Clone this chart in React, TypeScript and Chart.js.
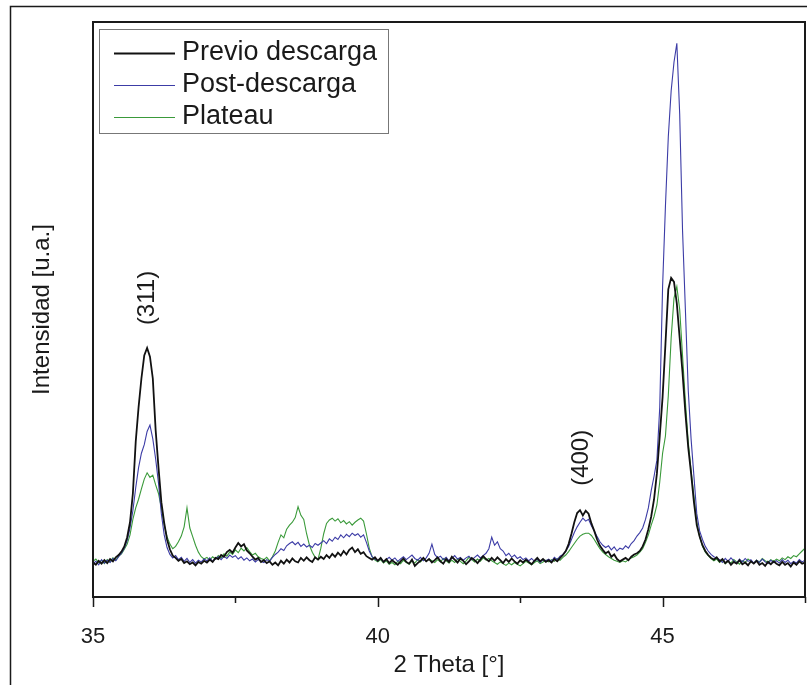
import React, { useEffect, useRef } from "react";
import { Chart, registerables } from "chart.js";

Chart.register(...registerables);

// 2θ sampling grid: start and step (degrees)
const THETA_START = 35;
const THETA_STEP = 0.05;

// Intensity (a.u., 0–100 scale), one row per degree (35.00 … 47.50)
const previoDescarga = [
  6.0, 5.6, 6.3, 5.8, 6.4, 5.9, 6.6, 6.2, 6.9, 7.3, 7.9, 8.8, 10.4, 13.0, 18.0, 27.0, 33.0, 38.0, 42.0, 43.3,
  41.8, 38.0, 29.0, 22.5, 16.5, 12.9, 10.0, 8.3, 7.2, 6.8, 6.3, 6.6, 5.9, 6.2, 5.7, 6.0, 5.5, 6.1, 5.8, 6.3,
  6.0, 6.5, 6.1, 6.8, 6.6, 7.3, 7.0, 7.8, 8.2, 7.7, 8.6, 9.4, 8.8, 9.2, 8.1, 7.6, 7.0, 6.5, 6.8, 6.1,
  6.4, 5.9, 6.2, 5.6, 6.0, 5.5, 6.3, 5.8, 6.5, 6.0, 6.7, 6.2, 6.0, 6.8, 6.3, 6.9, 6.4, 6.1, 6.9, 6.5,
  7.0, 6.6, 7.3, 6.8, 7.5, 7.0, 7.7, 7.2, 8.0, 7.4, 8.2, 8.6, 7.8, 8.3, 7.5, 7.8, 7.1, 6.8, 6.5, 6.9,
  6.3, 6.8, 6.1, 6.6, 5.9, 6.4, 6.0, 5.6, 6.2, 6.7, 6.1, 5.8, 6.5, 5.4, 5.9, 6.3, 6.8, 6.2, 6.6, 6.0,
  6.4, 6.9, 6.2, 5.8, 6.6, 6.1, 7.0, 6.5, 6.0, 6.7, 6.3, 5.7, 6.2, 6.8, 6.4, 5.9, 6.5, 7.1, 6.6, 6.2,
  6.8, 6.3, 6.9, 6.4, 5.9, 6.6, 6.1, 6.7, 6.2, 5.8, 6.4, 6.0, 6.5, 6.1, 5.7, 6.3, 6.8, 6.2, 6.6, 6.1,
  6.4, 6.0, 6.6, 6.2, 6.8, 7.3, 8.0, 9.2, 11.0, 13.0, 14.6, 15.1, 14.2, 15.0, 14.5, 12.8, 11.5, 10.0, 8.9, 8.2,
  7.6, 7.9, 7.0, 7.4, 6.6, 6.2, 6.5, 6.8, 6.4, 7.0, 7.4, 7.6, 8.0, 8.8, 10.0, 11.8, 14.0, 17.0, 21.5, 28.0,
  34.8, 44.0, 53.5, 55.5, 54.8, 51.0, 45.0, 39.0, 32.0, 26.0, 21.5, 16.5, 12.5, 10.5, 9.0, 8.0, 7.3, 6.8, 6.5, 6.9,
  6.2, 6.6, 5.9, 6.3, 5.6, 6.1, 5.8, 6.4, 5.7, 6.0, 5.5, 6.2, 5.8, 6.3, 5.6, 5.9, 5.4, 6.1, 5.7, 6.2,
  5.8, 5.5, 6.1, 5.6, 5.9, 5.3, 6.0, 5.6, 6.2, 5.8, 6.0,
];

const postDescarga = [
  5.8, 6.2, 5.6, 6.5, 5.9, 6.4, 6.0, 6.7, 6.3, 7.0, 7.6, 8.5, 9.8, 12.0, 15.0, 19.0, 22.5, 25.0, 26.5, 28.8,
  29.9, 27.5, 24.0, 19.8, 14.5, 10.8, 8.6, 7.4, 6.8, 7.2, 6.5, 6.9, 6.2, 6.7, 6.0, 6.5, 5.9, 6.4, 6.1, 6.6,
  6.3, 6.8, 6.2, 6.6, 7.0, 6.5, 7.1, 6.7, 7.3, 6.9, 7.2, 6.6, 7.0, 6.4, 6.8, 6.3, 6.6, 6.1, 6.5, 6.2,
  6.0, 6.5, 6.2, 6.9, 7.4, 7.8, 8.4, 8.1, 8.9, 9.3, 9.6, 9.1, 9.5, 8.8, 9.2, 8.7, 9.0, 8.6, 9.3, 9.0,
  9.4, 9.8, 9.3, 10.1, 9.7, 10.4, 10.0, 10.8, 10.3, 10.9, 10.5, 11.1, 10.7, 11.0, 10.4, 10.8, 9.5, 8.0, 7.0, 6.6,
  6.3, 6.7, 6.1, 6.5, 6.9, 6.4, 6.8, 6.2, 6.6, 7.0, 6.5, 6.9, 7.3, 6.7, 6.4, 6.9, 6.3, 6.8, 7.6, 9.2,
  7.4, 6.8, 7.1, 6.5, 6.9, 6.3, 6.7, 7.2, 6.6, 6.9, 6.4, 6.8, 7.1, 6.5, 6.9, 7.3, 6.8, 7.2, 7.6, 8.4,
  10.4, 9.0, 9.6, 8.4, 8.0, 7.2, 7.6, 6.9, 7.3, 6.7, 7.0, 6.5, 6.8, 6.3, 6.7, 6.2, 6.6, 6.0, 6.5, 6.3,
  6.6, 6.2, 6.9, 6.5, 7.1, 7.4, 8.0, 8.8, 10.0, 11.2, 12.2, 13.0, 13.7, 13.2, 13.5, 12.4, 11.5, 10.5, 9.6, 9.0,
  8.6, 8.9, 8.2, 8.7, 8.0, 8.5, 8.3, 8.9, 8.5, 9.3, 9.8, 10.6, 11.2, 12.0, 13.5, 15.5, 18.5, 21.0, 23.8, 33.0,
  54.0, 68.0, 80.0, 88.0, 93.0, 96.3, 84.0, 63.8, 50.0, 36.0, 27.5, 21.0, 14.5, 11.5, 10.0, 8.8, 8.0, 7.4, 7.0, 6.8,
  6.5, 6.0, 6.7, 6.2, 6.8, 6.3, 5.9, 6.6, 6.1, 6.7, 6.2, 6.5, 5.9, 6.4, 6.0, 6.6, 6.1, 5.8, 6.4, 6.0,
  6.3, 5.9, 6.5, 6.0, 6.4, 5.8, 6.2, 5.9, 6.5, 6.1, 6.4,
];

const plateau = [
  6.2, 6.6, 6.0, 6.4, 5.8, 6.5, 6.1, 6.8, 6.4, 7.1, 7.5, 8.3, 9.2, 10.8, 13.5, 15.5, 17.0, 18.8, 20.5, 21.6,
  20.8, 21.2, 19.5, 18.0, 15.5, 12.5, 10.5, 9.2, 8.4, 8.8, 9.6, 10.6, 12.2, 15.5, 12.0, 10.5, 9.0, 7.8, 7.0, 6.6,
  6.9, 6.4, 7.0, 6.6, 7.2, 6.8, 7.5, 7.1, 7.8, 7.4, 8.2, 7.7, 8.5, 8.0, 8.6, 7.9, 7.3, 7.6, 7.0, 6.7,
  6.5, 6.9, 6.3, 7.0, 8.0, 9.5, 10.8, 10.3, 11.8, 12.5, 13.0, 13.8, 15.7, 14.2, 13.5, 11.0, 9.0, 7.8, 6.9, 6.5,
  8.5, 11.0, 12.8, 13.4, 13.7, 13.2, 13.6, 12.9, 13.3, 12.7, 13.1, 12.5, 13.0, 13.4, 13.7, 13.2, 11.0, 8.5, 7.0, 6.4,
  6.1, 6.5, 5.9, 6.3, 5.7, 6.0, 5.6, 6.2, 5.8, 6.4, 6.0, 5.7, 6.3, 5.9, 6.5, 6.1, 6.7, 6.2, 6.6, 6.3,
  6.0, 6.5, 6.1, 6.7, 6.3, 5.9, 6.4, 6.0, 6.6, 6.2, 5.8, 6.3, 6.9, 6.5, 6.1, 6.6, 6.2, 6.8, 6.4, 6.7,
  6.3, 6.0, 5.7, 6.1, 5.8, 5.5, 5.9, 5.6, 6.0, 5.7, 5.4, 5.8, 6.2, 5.9, 5.6, 6.0, 6.3, 5.8, 6.1, 6.4,
  6.1, 6.5, 6.2, 6.7, 6.4, 6.9, 7.3, 7.9, 8.6, 9.3, 10.0, 10.6, 10.9, 11.1, 11.1, 10.7, 10.0, 9.2, 8.4, 7.8,
  7.4, 7.0, 6.7, 6.4, 6.2, 6.0, 6.3, 6.1, 6.5, 6.8, 7.0, 7.3, 7.8, 8.4, 9.5, 10.8, 12.5, 14.0, 16.0, 20.0,
  25.0, 28.0, 35.0, 45.0, 52.0, 54.0, 50.0, 42.0, 34.0, 27.0, 22.0, 17.5, 13.0, 10.5, 8.8, 7.8, 7.2, 6.7, 6.3, 6.6,
  6.0, 6.4, 5.8, 6.2, 5.9, 6.5, 6.1, 5.7, 6.3, 6.0, 6.6, 6.2, 5.9, 6.4, 6.1, 6.7, 6.3, 6.0, 6.5, 6.2,
  6.6, 6.3, 6.8, 6.5, 7.0, 6.7, 7.2, 7.0, 7.5, 8.0, 8.5,
];

const SERIES_LABELS = ["Previo descarga", "Post-descarga", "Plateau"];
const SERIES_COLORS = ["#111111", "#3c3ca6", "#3a9a3a"];
const SERIES_WIDTHS = [1.8, 1.1, 1.1];

const X_MIN = 35;
const X_MAX = 47.5;
const X_TICKS_MAJOR = [35, 40, 45];
const X_TICKS_MINOR = [37.5, 42.5, 47.5];

const PEAK_LABELS = ["(311)", "(400)"];
const PEAK_X = [35.95, 43.58];
const PEAK_Y = [52, 24.2];

const X_TITLE = "2 Theta [°]";
const Y_TITLE = "Intensidad [u.a.]";

const FONT = "'Liberation Sans', Arial, sans-serif";

const toPoints = (vals: number[]) =>
  vals.map((v, i) => ({ x: +(THETA_START + i * THETA_STEP).toFixed(2), y: v }));

const decorPlugin = {
  id: "decor",
  beforeDraw(chart: any) {
    const { ctx, width, height } = chart;
    ctx.save();
    ctx.fillStyle = "#ffffff";
    ctx.fillRect(0, 0, width, height);
    ctx.restore();
  },
  afterDraw(chart: any) {
    const { ctx, chartArea: a, scales } = chart;
    const xs = scales.x;
    const ys = scales.y;
    ctx.save();
    // outer figure frame
    ctx.strokeStyle = "#1a1a1a";
    ctx.lineWidth = 1.5;
    ctx.strokeRect(10.5, 6.5, 1200, 1200);
    // plot frame
    ctx.lineWidth = 2;
    ctx.strokeStyle = "#1a1a1a";
    ctx.strokeRect(a.left, a.top, a.right - a.left, a.bottom - a.top);
    // ticks
    ctx.lineWidth = 1.5;
    ctx.beginPath();
    X_TICKS_MAJOR.forEach((v) => {
      const px = Math.round(xs.getPixelForValue(v)) + 0.5;
      ctx.moveTo(px, a.bottom);
      ctx.lineTo(px, a.bottom + 10);
    });
    X_TICKS_MINOR.forEach((v) => {
      const px = Math.round(xs.getPixelForValue(v)) + 0.5;
      ctx.moveTo(px, a.bottom);
      ctx.lineTo(px, a.bottom + 6);
    });
    ctx.stroke();

    ctx.fillStyle = "#1a1a1a";
    // x title
    ctx.font = `24px ${FONT}`;
    ctx.textAlign = "center";
    ctx.textBaseline = "middle";
    ctx.fillText(X_TITLE, (a.left + a.right) / 2, 665);
    // y title
    ctx.save();
    ctx.translate(42, (a.top + a.bottom) / 2);
    ctx.rotate(-Math.PI / 2);
    ctx.fillText(Y_TITLE, 0, 0);
    ctx.restore();

    // peak labels
    PEAK_LABELS.forEach((t, i) => {
      ctx.save();
      ctx.translate(xs.getPixelForValue(PEAK_X[i]), ys.getPixelForValue(PEAK_Y[i]));
      ctx.rotate(-Math.PI / 2);
      ctx.font = `24px ${FONT}`;
      ctx.fillText(t, 0, 0);
      ctx.restore();
    });

    // legend
    const lx = 99.5, ly = 29.5, lw = 289, lh = 104;
    ctx.fillStyle = "#ffffff";
    ctx.fillRect(lx, ly, lw, lh);
    ctx.strokeStyle = "#777777";
    ctx.lineWidth = 1;
    ctx.strokeRect(lx, ly, lw, lh);
    ctx.font = `27px ${FONT}`;
    ctx.textAlign = "left";
    SERIES_LABELS.forEach((lab, i) => {
      const cy = 53 + i * 32;
      ctx.strokeStyle = SERIES_COLORS[i];
      ctx.lineWidth = SERIES_WIDTHS[i];
      ctx.beginPath();
      ctx.moveTo(114, cy + 0.5);
      ctx.lineTo(175, cy + 0.5);
      ctx.stroke();
      ctx.fillStyle = "#1a1a1a";
      ctx.fillText(lab, 182, cy);
    });
    ctx.restore();
  },
};

export default function App() {
  const ref = useRef<HTMLCanvasElement | null>(null);
  useEffect(() => {
    document.body.style.margin = "0";
    if (!ref.current) return;
    const series = [previoDescarga, postDescarga, plateau];
    const chart = new Chart(ref.current, {
      type: "line",
      data: {
        datasets: series.map((vals, i) => ({
          label: SERIES_LABELS[i],
          data: toPoints(vals),
          borderColor: SERIES_COLORS[i],
          borderWidth: SERIES_WIDTHS[i],
          pointRadius: 0,
          tension: 0,
          fill: false,
        })),
      },
      options: {
        animation: false,
        responsive: false,
        layout: { padding: { top: 22, right: 2, left: 0, bottom: 0 } },
        plugins: { legend: { display: false }, tooltip: { enabled: false } },
        scales: {
          x: {
            type: "linear",
            min: X_MIN,
            max: X_MAX,
            grid: { display: false },
            border: { display: false },
            afterBuildTicks: (s: any) => {
              s.ticks = X_TICKS_MAJOR.map((v) => ({ value: v }));
            },
            afterFit: (s: any) => {
              s.height = 88;
            },
            ticks: {
              autoSkip: false,
              maxRotation: 0,
              padding: 19,
              color: "#1a1a1a",
              font: { family: FONT, size: 22 },
              callback: (v: any) => String(v),
            },
          },
          y: {
            min: 0,
            max: 100,
            grid: { display: false },
            border: { display: false },
            ticks: { display: false },
            afterFit: (s: any) => {
              s.width = 93;
            },
          },
        },
      },
      plugins: [decorPlugin],
    } as any);
    return () => chart.destroy();
  }, []);
  return <canvas ref={ref} width={807} height={685} style={{ display: "block" }} />;
}
